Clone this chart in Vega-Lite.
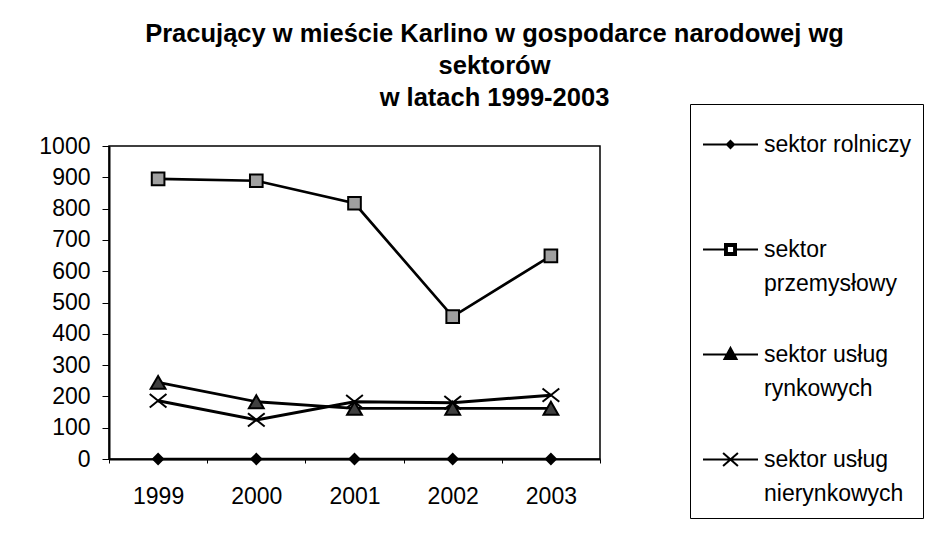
{
  "$schema": "https://vega.github.io/schema/vega-lite/v6.json",
  "autosize": "none",
  "width": 491,
  "height": 313,
  "padding": {"left": 109, "top": 146, "right": 325, "bottom": 76},
  "background": "white",
  "config": {
    "font": "Liberation Sans",
    "view": {"stroke": "black", "strokeWidth": 1.5},
    "style": {"guide-label": {"lineHeight": 34}}
  },
  "title": {
    "text": ["Pracujący w mieście Karlino w gospodarce narodowej wg", "sektorów", "w latach 1999-2003"],
    "font": "Liberation Sans",
    "fontSize": 25.5,
    "fontWeight": "bold",
    "lineHeight": 32,
    "color": "black",
    "anchor": "middle",
    "frame": "group",
    "dx": 140,
    "offset": -8
  },
  "data": {
    "values": [
      {"year": "1999", "series": "sektor rolniczy", "value": 0},
      {"year": "2000", "series": "sektor rolniczy", "value": 0},
      {"year": "2001", "series": "sektor rolniczy", "value": 0},
      {"year": "2002", "series": "sektor rolniczy", "value": 0},
      {"year": "2003", "series": "sektor rolniczy", "value": 0},
      {"year": "1999", "series": "sektor przemysłowy", "value": 895},
      {"year": "2000", "series": "sektor przemysłowy", "value": 889},
      {"year": "2001", "series": "sektor przemysłowy", "value": 817},
      {"year": "2002", "series": "sektor przemysłowy", "value": 455},
      {"year": "2003", "series": "sektor przemysłowy", "value": 649},
      {"year": "1999", "series": "sektor usług rynkowych", "value": 245},
      {"year": "2000", "series": "sektor usług rynkowych", "value": 183},
      {"year": "2001", "series": "sektor usług rynkowych", "value": 162},
      {"year": "2002", "series": "sektor usług rynkowych", "value": 162},
      {"year": "2003", "series": "sektor usług rynkowych", "value": 162},
      {"year": "1999", "series": "sektor usług nierynkowych", "value": 186},
      {"year": "2000", "series": "sektor usług nierynkowych", "value": 125},
      {"year": "2001", "series": "sektor usług nierynkowych", "value": 183},
      {"year": "2002", "series": "sektor usług nierynkowych", "value": 180},
      {"year": "2003", "series": "sektor usług nierynkowych", "value": 204}
    ]
  },
  "encoding": {
    "x": {
      "field": "year",
      "type": "ordinal",
      "bandPosition": 0.5,
      "scale": {"type": "band", "paddingInner": 0, "paddingOuter": 0},
      "axis": {
        "title": null,
        "labelAngle": 0,
        "labelFont": "Liberation Sans",
        "labelFontSize": 23,
        "labelColor": "black",
        "labelPadding": 22,
        "tickBand": "extent",
        "tickSize": 4,
        "tickColor": "black",
        "domainColor": "black",
        "domainWidth": 2
      }
    },
    "y": {
      "field": "value",
      "type": "quantitative",
      "scale": {"domain": [0, 1000], "nice": false},
      "axis": {
        "title": null,
        "format": "d",
        "values": [0, 100, 200, 300, 400, 500, 600, 700, 800, 900, 1000],
        "grid": false,
        "labelFont": "Liberation Sans",
        "labelFontSize": 23,
        "labelColor": "black",
        "labelPadding": 12,
        "tickSize": 7,
        "tickColor": "black",
        "domainColor": "black",
        "domainWidth": 2
      }
    }
  },
  "layer": [
    {
      "mark": {"type": "line", "color": "black"},
      "encoding": {
        "detail": {"field": "series"},
        "strokeWidth": {
          "field": "series",
          "type": "nominal",
          "scale": {
            "domain": ["sektor rolniczy", "sektor przemysłowy", "sektor usług rynkowych", "sektor usług nierynkowych"],
            "range": [2.5, 3, 4, 3]
          },
          "legend": null
        }
      }
    },
    {
      "mark": {"type": "point", "filled": true, "opacity": 1, "stroke": "black", "strokeWidth": 2},
      "encoding": {
        "shape": {
          "field": "series",
          "type": "nominal",
          "scale": {
            "domain": ["sektor rolniczy", "sektor przemysłowy", "sektor usług rynkowych", "sektor usług nierynkowych"],
            "range": ["diamond", "square", "triangle-up", "M-1,-0.8L1,0.8M-1,0.8L1,-0.8"]
          },
          "legend": null
        },
        "color": {
          "field": "series",
          "type": "nominal",
          "scale": {
            "domain": ["sektor rolniczy", "sektor przemysłowy", "sektor usług rynkowych", "sektor usług nierynkowych"],
            "range": ["black", "#a0a0a0", "#404040", "black"]
          },
          "legend": null
        },
        "size": {
          "field": "series",
          "type": "nominal",
          "scale": {
            "domain": ["sektor rolniczy", "sektor przemysłowy", "sektor usług rynkowych", "sektor usług nierynkowych"],
            "range": [100, 280, 320, 324]
          },
          "legend": null
        }
      }
    },
    {
      "mark": {"type": "point", "filled": true, "opacity": 0, "color": "black", "stroke": "black", "strokeWidth": 2},
      "encoding": {
        "shape": {
          "field": "series",
          "type": "nominal",
          "scale": {
            "domain": ["sektor rolniczy", "sektor przemysłowy", "sektor usług rynkowych", "sektor usług nierynkowych"],
            "range": [
              "M-1,0H-0.13M0.13,0H1M-0.13,0L0,-0.13L0.13,0L0,0.13Z",
              "M-1,0H-0.2M0.2,0H1M-0.2,-0.2H0.2V0.2H-0.2ZM-0.13,-0.13V0.13H0.13V-0.13Z",
              "M-1,0H1M0,-0.24L0.22,0.16H-0.22Z",
              "M-1,0H1M-0.27,-0.24L0.27,0.24M-0.27,0.24L0.27,-0.24"
            ]
          },
          "legend": {
            "title": null,
            "orient": "none",
            "legendX": 581,
            "legendY": -42,
            "direction": "vertical",
            "columns": 1,
            "padding": 12,
            "strokeColor": "black",
            "fillColor": "white",
            "symbolSize": 3025,
            "symbolStrokeWidth": 2,
            "labelFont": "Liberation Sans",
            "labelFontSize": 23,
            "labelColor": "black",
            "labelLimit": 400,
            "labelOffset": 5,
            "labelBaseline": "middle",
            "rowPadding": 30,
            "labelExpr": "datum.value == 'sektor przemysłowy' ? ['sektor', 'przemysłowy'] : datum.value == 'sektor usług rynkowych' ? ['sektor usług', 'rynkowych'] : datum.value == 'sektor usług nierynkowych' ? ['sektor usług', 'nierynkowych'] : [datum.label, '']"
          }
        }
      }
    }
  ],
  "resolve": {"scale": {"shape": "independent"}}
}
